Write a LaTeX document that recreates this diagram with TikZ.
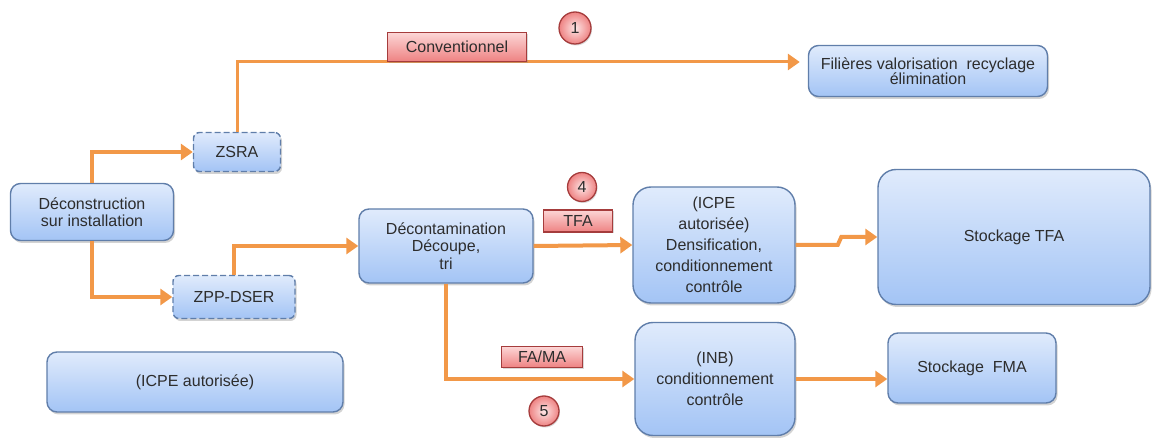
\documentclass[tikz,border=0pt]{standalone}
\usepackage{fontspec}
\setmainfont{Liberation Sans}
\usepackage{xcolor}
\usepackage{tikz}
\usetikzlibrary{arrows.meta, positioning, shadows}

\definecolor{bluetop}{RGB}{224,235,252}
\definecolor{bluebot}{RGB}{163,196,245}
\definecolor{blueedge}{RGB}{96,126,170}
\definecolor{redtop}{RGB}{252,214,214}
\definecolor{redbot}{RGB}{238,130,130}
\definecolor{rededge}{RGB}{165,60,60}
\definecolor{flow}{RGB}{242,152,72}
\definecolor{txt}{RGB}{45,45,45}

\begin{document}
\begin{tikzpicture}[
  x=1pt, y=-1pt,
  box/.style={rectangle, rounded corners=10pt, draw=blueedge, line width=1.4pt,
              top color=bluetop, bottom color=bluebot, inner sep=0pt,
              drop shadow={opacity=0.35, shadow xshift=1.5pt, shadow yshift=-2.5pt},
              font=\fontsize{16}{17.5}\selectfont, text=txt, align=center},
  bigbox/.style={box, rounded corners=18pt},
  dashbox/.style={box, rounded corners=6pt, dashed, dash pattern=on 6pt off 3pt},
  tagbox/.style={rectangle, draw=rededge, line width=1.2pt,
                 top color=redtop, bottom color=redbot, inner sep=0pt,
                 drop shadow={opacity=0.3, shadow xshift=1pt, shadow yshift=-1.5pt},
                 font=\fontsize{16}{17.5}\selectfont, text=txt},
  numcirc/.style={circle, draw=rededge, line width=1.3pt,
                  inner color=redtop!60!white, outer color=redbot, inner sep=0pt,
                  drop shadow={opacity=0.3, shadow xshift=1pt, shadow yshift=-1.5pt},
                  font=\fontsize{16}{17}\selectfont, text=txt},
  arr/.style={-{Triangle[length=12pt, width=16pt]}, flow, line width=4pt},
]
\useasboundingbox (0,0) rectangle (1152,438);

%% ── LEFT column ───────────────────────────────────────────────────────
\node[box, minimum width=163pt, minimum height=57pt] at (92,212) (decon)
  {Déconstruction\\sur installation};
\node[dashbox, minimum width=87pt, minimum height=39pt] at (237,152) (zsra) {ZSRA};
\node[dashbox, minimum width=122pt, minimum height=43pt] at (234,297) (zpp) {ZPP-DSER};
\node[box, minimum width=296pt, minimum height=60pt] at (195,382) (icpe) {(ICPE autorisée)};

%% ── MIDDLE column ─────────────────────────────────────────────────────
\node[box, minimum width=174pt, minimum height=74pt] at (446,246) (decont)
  {Décontamination\\Découpe,\\tri};
\node[bigbox, minimum width=162pt, minimum height=116pt,
      font=\fontsize{16}{21}\selectfont] at (714,245) (dens)
  {(ICPE\\autorisée)\\Densification,\\conditionnement\\contrôle};
\node[bigbox, minimum width=160pt, minimum height=113pt,
      font=\fontsize{16}{21}\selectfont] at (715,379) (inb)
  {(INB)\\conditionnement\\contrôle};

%% ── RIGHT column ──────────────────────────────────────────────────────
\node[box, minimum width=239pt, minimum height=51pt,
      font=\fontsize{16}{15.5}\selectfont] at (928,71) (fil)
  {Filières valorisation\ \ recyclage\\élimination};
\node[bigbox, minimum width=272pt, minimum height=135pt] at (1014,237) (stfa) {Stockage TFA};
\node[box, minimum width=168pt, minimum height=70pt] at (972,368) (sfma) {Stockage\ \ FMA};

%% ── flows ─────────────────────────────────────────────────────────────
\draw[arr] (decon.north) |- (zsra.west);
\draw[arr] (decon.south) |- (zpp.west);
\draw[arr, line width=3pt, shorten >=8pt] (zsra.north) |- ([yshift=9pt]fil.west);
\draw[arr] (zpp.north) |- (decont.west);
\draw[arr] (decont.east) -- (dens.west);
\draw[arr] (decont.south) |- (inb.west);
% small jog before the TFA storage
\draw[arr] (dens.east) -- ++(42,0) -- ([xshift=-36pt]stfa.west) -- (stfa.west);
\draw[arr] (inb.east) -- (inb.east -| sfma.west);

%% ── flow tags and numbers ─────────────────────────────────────────────
\node[tagbox, minimum width=139pt, minimum height=29pt] at (457,47) (conv) {Conventionnel};
\node[tagbox, minimum width=69pt, minimum height=22pt] at (578,221) (tfa) {TFA};
\node[tagbox, minimum width=81pt, minimum height=21pt] at (542,357) (fama) {FA/MA};
\node[numcirc, minimum size=32pt] at (575,28) (n1) {1};
\node[numcirc, minimum size=29pt] at (582,187) (n4) {4};
\node[numcirc, minimum size=30pt] at (544,411) (n5) {5};

\end{tikzpicture}
\end{document}
